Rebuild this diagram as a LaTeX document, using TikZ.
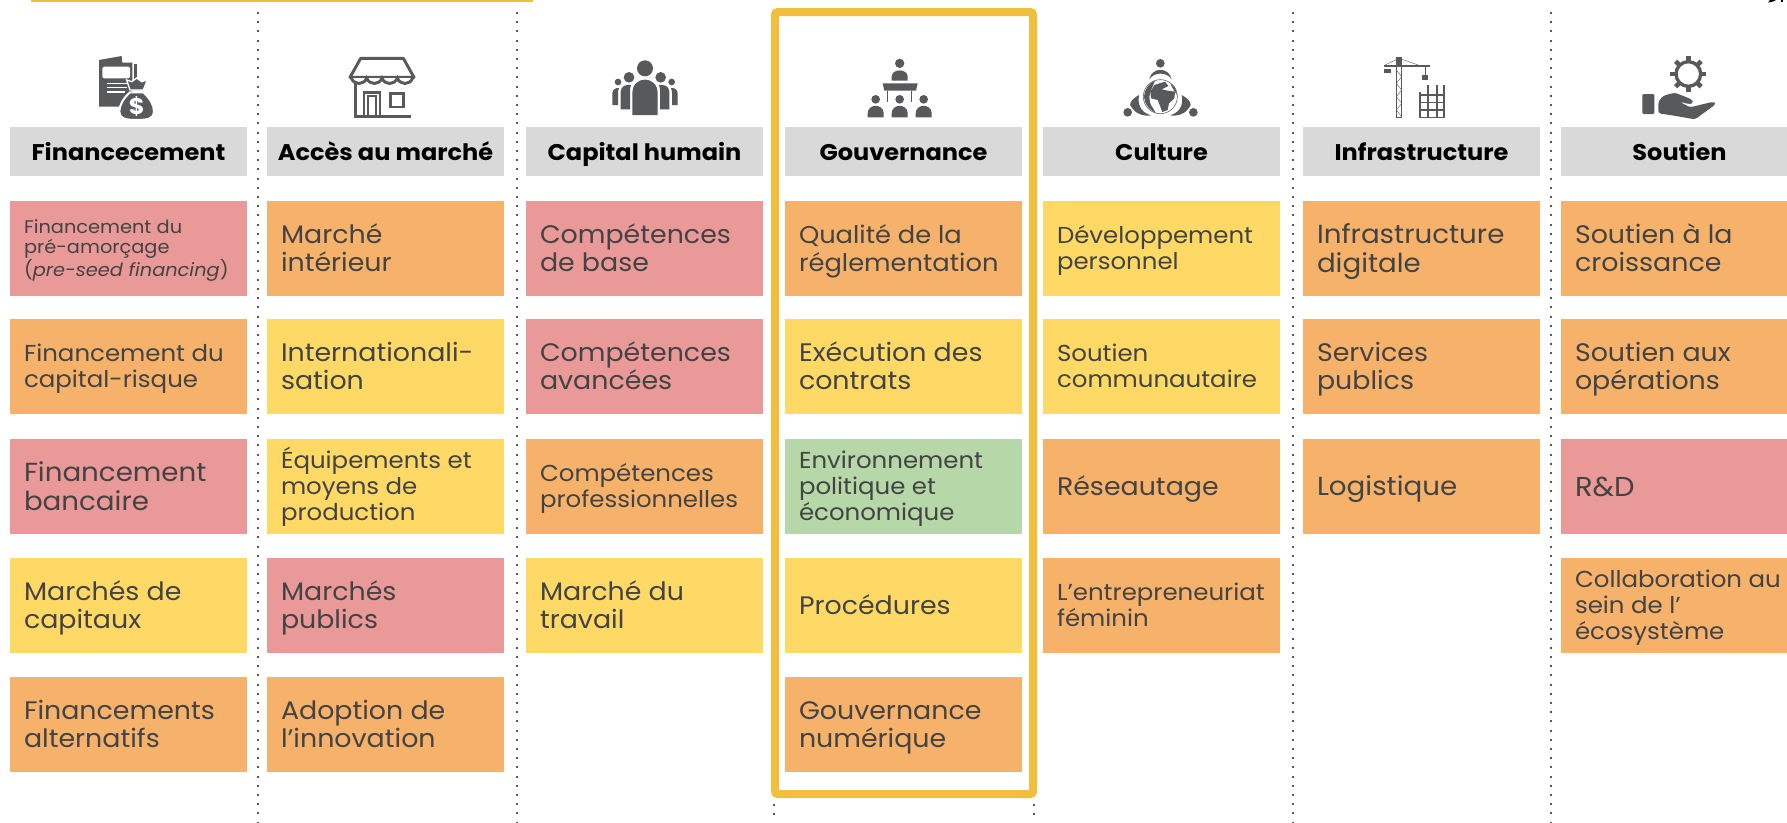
\documentclass[tikz,border=0pt]{standalone}
\usepackage{fontspec}
\setmainfont{Poppins}[FakeStretch=1.06]
\definecolor{cred}{HTML}{EA9999}
\definecolor{cora}{HTML}{F6B26B}
\definecolor{cyel}{HTML}{FFD966}
\definecolor{cgre}{HTML}{B6D7A8}
\definecolor{chead}{HTML}{D9D9D9}
\definecolor{cgold}{HTML}{F1BE3E}
\definecolor{cicon}{HTML}{58595B}
\definecolor{ctext}{HTML}{434343}
\tikzset{
  cardbox/.style={rectangle,inner sep=0pt,minimum width=177.75pt,minimum height=71.25pt},
  cardtext/.style={inner sep=0pt,align=left,text=ctext},
  headbox/.style={rectangle,fill=chead,inner sep=0pt,minimum width=177.75pt,minimum height=36.75pt,
    text height=15pt,text depth=1pt,
    font=\fontsize{17}{19}\selectfont\bfseries,text=black},
  big/.style={font=\fontsize{19}{21.4}\selectfont},
  bigb/.style={font=\fontsize{19.6}{21.4}\selectfont},
  rnd/.style={font=\fontsize{20.5}{21.4}\selectfont},
  medb/.style={font=\fontsize{18.2}{21}\selectfont},
  med/.style={font=\fontsize{17.3}{19.4}\selectfont},
  sml/.style={font=\fontsize{13.7}{15}\selectfont},
  sepline/.style={draw=cicon,line width=1.5pt,dash pattern=on 1.5pt off 5.4pt},
  goldframe/.style={draw=cgold,line width=6pt,rounded corners=2pt},
  icon/.style={shift={#1},x=0.25pt,y=-0.25pt},
  ink/.style={fill=cicon,draw=none},
  inkline/.style={draw=cicon,line width=2.2pt},
}
\newcommand\card[6]{\node[cardbox,fill=#4] (#1) at ({#2+118.5},{#3+47.5}) {};
  \node[cardtext,#5,anchor=west] (#1t) at ([xshift=10.5pt,yshift=-0.5pt]#1.west) {\vphantom{É}#6\vphantom{g}};}
\newcommand\headcard[3]{\node[headbox] (#1) at ({#2+118.5},151) {#3};}
\begin{document}
\begin{tikzpicture}[x=0.75pt,y=-0.75pt]
\useasboundingbox (0,0) rectangle (1787,822);
\clip (0,0) rectangle (1787,822);
\fill[white] (0,0) rectangle (1787,822);
% top scraps
\fill[cgold] (31,0) rectangle (533,1.5);
\fill[black] (1768,2.5) -- (1770,0) -- (1776,0) -- (1773,1.5) -- cycle;
\fill[black] (1781,0) rectangle (1783,1.5);
% separators
\coordinate (s1a) at (257.6,12); \coordinate (s1b) at (257.6,822);
\coordinate (s2a) at (516.6,12); \coordinate (s2b) at (516.6,822);
\coordinate (s3a) at (774,804); \coordinate (s3b) at (774,822);
\coordinate (s4a) at (1034,804); \coordinate (s4b) at (1034,822);
\coordinate (s5a) at (1292.6,12); \coordinate (s5b) at (1292.6,822);
\coordinate (s6a) at (1551.3,12); \coordinate (s6b) at (1551.3,822);
\draw[sepline] (s1a)--(s1b);
\draw[sepline] (s2a)--(s2b);
\draw[sepline] (s3a)--(s3b);
\draw[sepline] (s4a)--(s4b);
\draw[sepline] (s5a)--(s5b);
\draw[sepline] (s6a)--(s6b);
% headers
\headcard{h1}{10}{Financecement}
\headcard{h2}{267}{Accès au marché}
\headcard{h3}{526}{Capital humain}
\headcard{h4}{785}{Gouvernance}
\headcard{h5}{1043}{Culture}
\headcard{h6}{1303}{Infrastructure}
\headcard{h7}{1561}{Soutien}
% column 1
\card{a1}{10}{201}{cred}{sml}{Financement du\\pré-amorçage\\(\textit{pre-seed financing})}
\card{a2}{10}{319}{cora}{med}{Financement du\\capital-risque}
\card{a3}{10}{439}{cred}{bigb}{Financement\\bancaire}
\card{a4}{10}{558}{cyel}{big}{Marchés de\\capitaux}
\card{a5}{10}{677}{cora}{big}{Financements\\alternatifs}
% column 2
\card{b1}{267}{201}{cora}{big}{Marché\\intérieur}
\card{b2}{267}{319}{cyel}{big}{Internationali-\\sation}
\card{b3}{267}{439}{cyel}{med}{Équipements et\\moyens de\\production}
\card{b4}{267}{558}{cred}{big}{Marchés\\publics}
\card{b5}{267}{677}{cora}{big}{Adoption de\\l’innovation}
% column 3
\card{c1}{526}{201}{cred}{big}{Compétences\\de base}
\card{c2}{526}{319}{cred}{big}{Compétences\\avancées}
\card{c3}{526}{439}{cora}{med}{Compétences\\professionnelles}
\card{c4}{526}{558}{cyel}{big}{Marché du\\travail}
% column 4
\card{d1}{785}{201}{cora}{medb}{Qualité de la\\réglementation}
\card{d2}{785}{319}{cyel}{big}{Exécution des\\contrats}
\card{d3}{785}{439}{cgre}{med}{Environnement\\politique et\\économique}
\card{d4}{785}{558}{cyel}{big}{Procédures}
\card{d5}{785}{677}{cora}{big}{Gouvernance\\numérique}
% column 5
\card{e1}{1043}{201}{cyel}{med}{Développement\\personnel}
\card{e2}{1043}{319}{cyel}{med}{Soutien\\communautaire}
\card{e3}{1043}{439}{cora}{big}{Réseautage}
\card{e4}{1043}{558}{cora}{med}{L’entrepreneuriat\\féminin}
% column 6
\card{f1}{1303}{201}{cora}{bigb}{Infrastructure\\digitale}
\card{f2}{1303}{319}{cora}{big}{Services\\publics}
\card{f3}{1303}{439}{cora}{bigb}{Logistique}
% column 7
\card{g1}{1561}{201}{cora}{big}{Soutien à la\\croissance}
\card{g2}{1561}{319}{cora}{big}{Soutien aux\\opérations}
\card{g3}{1561}{439}{cred}{rnd}{R\&D}
\card{g4}{1561}{558}{cora}{med}{Collaboration au\\sein de l’\\écosystème}
% highlight frame
\draw[goldframe] (775,12) rectangle (1033,794);
% icon 1 : money
\begin{scope}[icon={(85,50)}]
\fill[ink] (42,30) -- (110,18) -- (112,38) -- (142,38) -- (142,170) -- (42,170) -- cycle;
\fill[ink] (147,42) rectangle (156,100);
\fill[white,rounded corners=1.5pt] (52,50) rectangle (135,85);
\draw[white,line width=1pt] (65,100)--(132,100) (65,113)--(125,113) (65,126)--(120,126);
\path[fill=cicon,draw=white,line width=1.5pt] (135,127) .. controls (115,145) and (103,165) .. (103,185) .. controls (103,205) and (120,210) .. (155,210) .. controls (190,210) and (207,205) .. (207,185) .. controls (207,165) and (195,145) .. (175,127) -- cycle;
\path[fill=cicon,draw=white,line width=1pt] (125,90) -- (140,95) -- (155,84) -- (170,95) -- (187,90) -- (175,120) -- (135,120) -- cycle;
\node[text=white,inner sep=0pt,font=\fontsize{17}{17}\selectfont\bfseries] (dollar) at (155,171) {\$};
\end{scope}
% icon 2 : shop
\begin{scope}[icon={(340,50)}]
\draw[inkline,line join=round] (62,25) -- (190,25) -- (222,82) -- (30,82) -- cycle;
\draw[inkline,fill=white] (34,84) .. controls (42,106) and (72,106) .. (80,84) .. controls (88,106) and (118,106) .. (126,84) .. controls (134,106) and (164,106) .. (172,84) .. controls (180,106) and (210,106) .. (218,84);
\draw[inkline] (47,100) -- (47,200) -- (212,200);
\draw[inkline] (72,200) -- (72,127) -- (120,127) -- (120,200);
\draw[draw=cicon,line width=1.5pt] (84,200) -- (84,137) -- (108,137) -- (108,200);
\draw[inkline] (151,131) rectangle (191,171);
\end{scope}
% icon 3 : people
\begin{scope}[icon={(600,50)}]
\fill[ink] (135,55) circle[radius=24];
\fill[ink] (97,195) -- (97,130) .. controls (97,75) and (173,75) .. (173,130) -- (173,195) -- cycle;
\fill[ink] (87,82) circle[radius=16];
\fill[ink] (182,82) circle[radius=16];
\fill[ink] (62,178) -- (62,125) .. controls (62,107) and (80,103) .. (93,105) .. controls (90,112) and (90,118) .. (90,125) -- (90,178) -- cycle;
\fill[ink] (208,178) -- (208,125) .. controls (208,107) and (190,103) .. (177,105) .. controls (180,112) and (180,118) .. (180,125) -- (180,178) -- cycle;
\fill[ink] (54,96) circle[radius=10];
\fill[ink] (215,96) circle[radius=10];
\fill[ink] (37,165) -- (37,130) .. controls (37,118) and (48,113) .. (57,114) .. controls (55,120) and (54,125) .. (54,130) -- (54,165) -- cycle;
\fill[ink] (233,165) -- (233,130) .. controls (233,118) and (222,113) .. (213,114) .. controls (215,120) and (216,125) .. (216,130) -- (216,165) -- cycle;
\end{scope}
% icon 4 : meeting
\begin{scope}[icon={(855,50)}]
\fill[ink] (134,40) circle[radius=14];
\fill[ink] (110,92) -- (110,80) .. controls (110,55) and (158,55) .. (158,80) -- (158,92) -- cycle;
\fill[ink] (83,100) -- (188,100) -- (183,122) -- (88,122) -- cycle;
\draw[draw=cicon,line width=1pt] (98,122)--(98,155) (170,122)--(170,155);
\foreach \px in {62,134,206}{
  \fill[ink] (\px,148) circle[radius=13];
  \fill[ink] ({\px-24},202) -- ({\px-24},190) .. controls ({\px-24},160) and ({\px+24},160) .. ({\px+24},190) -- ({\px+24},202) -- cycle;
}
\end{scope}
% icon 5 : globe
\begin{scope}[icon={(1115,50)}]
\fill[ink] (136,40) circle[radius=13];
\fill[ink] (38,187) circle[radius=13];
\fill[ink] (235,187) circle[radius=13];
\fill[ink] (103,88) .. controls (110,50) and (162,50) .. (170,88) .. controls (155,65) and (118,65) .. (103,88) -- cycle;
\fill[ink] (72,135) .. controls (45,150) and (40,165) .. (50,172) .. controls (60,190) and (85,200) .. (108,196) .. controls (85,190) and (65,170) .. (72,135) -- cycle;
\fill[ink] (200,135) .. controls (227,150) and (232,165) .. (223,172) .. controls (213,190) and (188,200) .. (165,196) .. controls (188,190) and (208,170) .. (200,135) -- cycle;
\draw[draw=cicon,fill=white,line width=0.4pt] (136,140) circle[radius=51];
\fill[ink] (120,92) .. controls (100,100) and (88,120) .. (87,140) .. controls (88,160) and (100,178) .. (122,188) .. controls (112,170) and (105,165) .. (104,150) .. controls (100,135) and (108,122) .. (120,92) -- cycle;
\fill[ink] (118,105) -- (150,95) -- (160,108) -- (140,118) -- (158,122) -- (180,125) -- (178,145) -- (162,160) -- (158,180) -- (142,186) -- (134,165) -- (128,150) -- (108,145) -- (106,125) -- cycle;
\fill[ink] (165,100) -- (180,112) -- (186,135) -- (176,120) -- cycle;
\end{scope}
% icon 6 : crane
\begin{scope}[icon={(1375,50)}]
\draw[draw=cicon,line width=1pt] (28,48) -- (165,48);
\draw[draw=cicon,line width=.3pt] (28,46) -- (68,27) (78,27) -- (132,46);
\fill[ink] (62,22) rectangle (80,48);
\fill[ink] (28,57) rectangle (48,69);
\draw[draw=cicon,line width=.4pt] (152,50) -- (152,75);
\fill[ink] (142,75) rectangle (160,89);
\draw[draw=cicon,line width=.8pt] (64,50) rectangle (80,203);
\draw[draw=cicon,line width=.3pt] (64,60) -- (80,80) -- (64,100) -- (80,120) -- (64,140) -- (80,160) -- (64,180) -- (80,200);
\draw[draw=cicon,line width=1.3pt] (135,127) -- (135,205) (160,105) -- (160,205) (185,105) -- (185,205) (207,105) -- (207,205);
\draw[draw=cicon,line width=1.2pt] (133,135) -- (209,135) (133,158) -- (209,158) (133,180) -- (209,180) (133,203) -- (209,203);
\end{scope}
% icon 7 : hand and gear
\begin{scope}[icon={(1630,50)}]
\foreach \ang in {0,45,...,315}{
  \draw[draw=cicon,line width=3.4pt] ({175+36*cos(\ang)},{72+36*sin(\ang)}) -- ({175+54*cos(\ang)},{72+54*sin(\ang)});
}
\draw[draw=cicon,fill=white,line width=2.5pt] (175,72) circle[radius=37];
\fill[ink,rounded corners=1pt] (37,132) rectangle (73,192);
\fill[ink,rounded corners=2pt] (85,155) -- (100,137) -- (135,128) -- (185,148) -- (190,158) -- (180,163) -- (148,155) -- (180,172) -- (250,155) -- (258,162) -- (195,208) -- (120,195) -- (85,190) -- cycle;
\end{scope}
\end{tikzpicture}
\end{document}
